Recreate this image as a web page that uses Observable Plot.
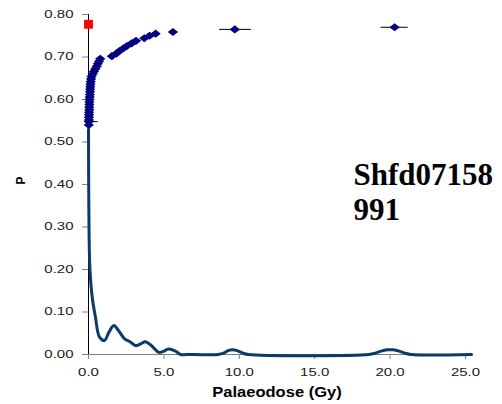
<!DOCTYPE html>
<html><head><meta charset="utf-8">
<script src="https://cdn.jsdelivr.net/npm/d3@7"></script>
<script src="https://cdn.jsdelivr.net/npm/@observablehq/plot@0.6"></script>
<style>
html,body{margin:0;padding:0;background:#fff;}
#chart svg{display:block;}
</style></head><body><div id="chart"></div>
<script>
// Individual aliquot palaeodoses (Gy) and their plotted P positions
const deValues = [0.02,0.02,0.03,0.03,0.04,0.04,0.05,0.05,0.06,0.06,
                  0.07,0.08,0.09,0.10,0.11,0.12,0.13,0.15,0.17,0.20,
                  0.28,0.36,0.45,0.55,0.62,0.70,0.78,1.55,1.85,2.05,
                  2.30,2.55,2.85,3.15,3.70,4.05,4.45,5.60,9.70,20.30];
const pValues = [0.540,0.548,0.552,0.558,0.564,0.570,0.576,0.582,0.588,0.594,
                 0.600,0.606,0.612,0.618,0.624,0.630,0.636,0.642,0.648,0.654,
                 0.660,0.666,0.672,0.678,0.684,0.690,0.696,0.702,0.708,0.714,
                 0.720,0.726,0.732,0.738,0.744,0.750,0.755,0.759,0.765,0.770];
const errMinus = [0.04,0.62,0.04,0.04,0.04,0.04,0.04,0.04,0.04,0.04,
                  0.04,0.04,0.04,0.04,0.04,0.04,0.04,0.04,0.04,0.04,
                  0.05,0.05,0.05,0.05,0.05,0.05,0.05,0.15,0.15,0.15,
                  0.15,0.15,0.15,0.15,0.15,0.15,0.15,0.20,1.00,0.90];
const errPlus  = [0.04,0.62,0.04,0.04,0.04,0.04,0.04,0.04,0.04,0.04,
                  0.04,0.04,0.04,0.04,0.04,0.04,0.04,0.04,0.04,0.04,
                  0.05,0.05,0.05,0.05,0.05,0.05,0.05,0.15,0.15,0.15,
                  0.15,0.15,0.15,0.15,0.15,0.15,0.15,0.20,1.10,0.90];
// Red marker (summary value)
const redDose = [0.0];
const redP = [0.777];
// Probability density curve
const curveDose = [0.00,0.02,0.09,0.25,0.46,0.73,1.06,1.35,1.68,2.00,
                   2.39,2.75,3.12,3.45,3.78,4.20,4.66,5.00,5.30,5.77,
                   6.10,6.50,8.60,8.95,9.25,9.55,9.85,10.25,10.60,18.60,
                   19.00,19.40,19.80,20.20,20.60,21.00,21.40,25.40];
const curveP = [0.530,0.360,0.205,0.134,0.088,0.041,0.033,0.052,0.068,0.056,
                0.037,0.030,0.021,0.025,0.030,0.020,0.005,0.008,0.013,0.008,
                0.000,0.000,0.000,0.003,0.009,0.011,0.009,0.003,0.000,0.000,
                0.003,0.008,0.011,0.011,0.008,0.003,0.000,0.000];
const xTicks = [0,5,10,15,20,25];
const yTicks = [0,0.1,0.2,0.3,0.4,0.5,0.6,0.7,0.8];
const xLabel = "Palaeodose (Gy)";
const yLabel = "P";
const sampleLabel = "Shfd07158\n991";

const points = deValues.map((x, i) => ({x, p: pValues[i], lo: x - errMinus[i], hi: x + errPlus[i]}));
const red = redDose.map((x, i) => ({x, p: redP[i]}));
const curve = curveDose.map((x, i) => ({x, p: curveP[i]}));

// Excel-style diamond: a little wider than tall
const wideDiamond = {
  draw(ctx, size) {
    const r = Math.sqrt(size / Math.PI);
    const w = r * 1.12, h = r * 0.88;
    ctx.moveTo(0, -h); ctx.lineTo(w, 0); ctx.lineTo(0, h); ctx.lineTo(-w, 0); ctx.closePath();
  }
};

const chart = Plot.plot({
  width: 502, height: 404,
  marginLeft: 88, marginRight: 37, marginTop: 14, marginBottom: 50,
  x: {domain: [0, 25]},
  y: {domain: [0, 0.8]},
  style: {fontFamily: "'Liberation Sans', Arial, sans-serif", fontSize: "10px", background: "white", color: "#1a1a1a"},
  marks: [
    Plot.ruleY([0], {x1: 0, x2: 25.45, stroke: "#808080"}),
    Plot.axisX(xTicks, {tickFormat: d3.format(".1f"), tickSize: 5, tickPadding: 9, stroke: "#808080", fill: "#1a1a1a", label: null}),
    Plot.axisY(yTicks, {tickFormat: d3.format(".2f"), tickSize: 6, tickPadding: 9, stroke: "#808080", fill: "#1a1a1a", label: null}),
    Plot.ruleX([0], {stroke: "black"}),
    Plot.line(curve, {x: "x", y: "p", stroke: "#0b3a6b", strokeWidth: 3, curve: "catmull-rom"}),
    Plot.ruleY(points, {y: "p", x1: "lo", x2: "hi", stroke: "black", clip: true}),
    Plot.dot(points, {x: "x", y: "p", symbol: wideDiamond, r: 4.6, fill: "#000080"}),
    Plot.dot(red, {x: "x", y: "p", symbol: "square", r: 5, fill: "#ff0000"}),
    Plot.text([xLabel], {text: d => d, frameAnchor: "bottom", dy: 38, lineAnchor: "middle", fontWeight: "bold", fontSize: 14, fill: "black"}),
    Plot.text([yLabel], {text: d => d, frameAnchor: "left", dx: -67, rotate: -90, fontWeight: "bold", fontSize: 12, fill: "black"}),
    Plot.text([sampleLabel], {text: d => d, frameAnchor: "top-left", dx: 265, dy: 146, lineAnchor: "top", textAnchor: "start",
      fontFamily: "'Liberation Serif', 'Times New Roman', serif", fontWeight: "bold", fontSize: 31, lineHeight: 1.13, fill: "black"})
  ]
});

function stretch(el, s) {
  const tr = el.getAttribute("transform");
  if (tr) el.setAttribute("transform", tr + ` scale(${s},1)`);
  else {
    const x = +el.getAttribute("x") || 0, y = +el.getAttribute("y") || 0;
    el.setAttribute("transform", `translate(${x},${y}) scale(${s},1) translate(${-x},${-y})`);
  }
}
chart.querySelectorAll('g[aria-label="x-axis tick label"] text, g[aria-label="y-axis tick label"] text').forEach(t => stretch(t, 1.5));
chart.querySelectorAll('text').forEach(t => { if (t.textContent === xLabel) stretch(t, 1.18); });

document.getElementById("chart").appendChild(chart);
</script>
</body></html>
